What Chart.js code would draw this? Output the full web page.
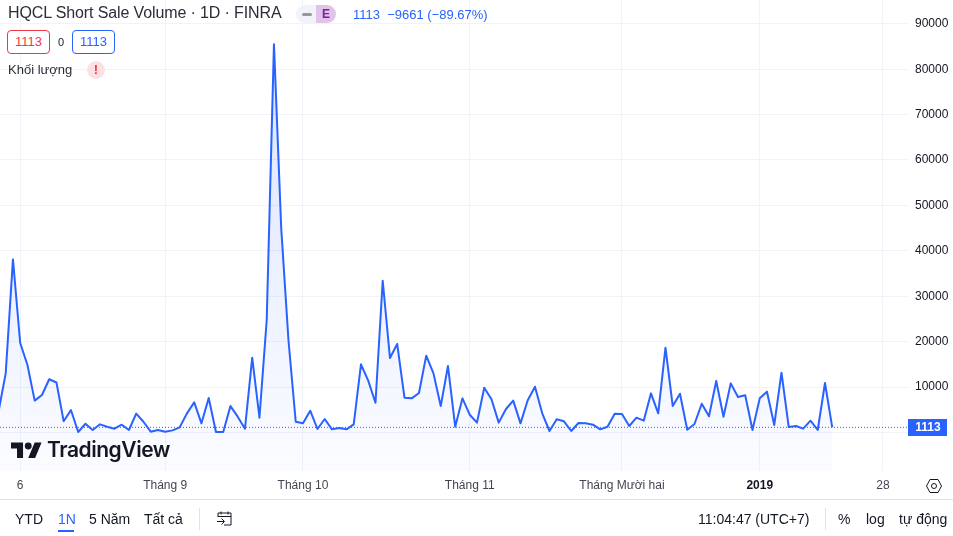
<!DOCTYPE html>
<html lang="vi">
<head>
<meta charset="utf-8">
<title>HQCL Short Sale Volume</title>
<script src="https://cdn.jsdelivr.net/npm/chart.js@4"></script>
<style>
html, body { margin: 0; padding: 0; background: #fff; overflow: hidden; }
body { width: 953px; height: 536px; position: relative; font-family: "Liberation Sans", Arial, sans-serif; color: #131722; }
canvas { position: absolute; left: 0; top: 0; }
.t { position: absolute; white-space: nowrap; line-height: 18px; }
.box { position: absolute; top: 30px; width: 41px; height: 22px; border: 1px solid; border-radius: 4px; font-size: 13px; line-height: 22px; text-align: center; background: #fff; }
svg { position: absolute; }
.sep { position: absolute; background: #e0e3eb; }
</style>
</head>
<body>
<canvas id="chart" width="953" height="536"></canvas>

<div class="t" style="left:8px;top:4px;font-size:16px;letter-spacing:-0.12px;color:#2a2e39">HQCL Short Sale Volume · 1D · FINRA</div>
<div style="position:absolute;left:296px;top:5px;width:20px;height:18px;background:#f0f3fa;border-radius:9px 0 0 9px"></div>
<div style="position:absolute;left:302px;top:13px;width:10px;height:3px;background:#9598a1;border-radius:2px"></div>
<div class="t" style="left:316px;top:5px;width:20px;height:18px;background:#e1c3ea;border-radius:0 9px 9px 0;text-align:center;font-size:12px;font-weight:bold;color:#7b1fa2">E</div>
<div class="t" style="left:353px;top:6px;font-size:13px;color:#2962ff">1113&nbsp; −9661 (−89.67%)</div>
<div class="box" style="left:7px;border-color:#f23645;color:#f23645">1113</div>
<div class="t" style="left:58px;top:33px;font-size:11px;color:#131722">0</div>
<div class="box" style="left:72px;border-color:#2962ff;color:#2962ff">1113</div>
<div class="t" style="left:8px;top:61px;font-size:13px;color:#2a2e39">Khối lượng</div>
<div class="t" style="left:87px;top:61px;width:18px;height:18px;border-radius:9px;background:#fde0e3;text-align:center;font-size:13px;font-weight:bold;color:#f23645">!</div>

<svg style="left:11px;top:439px" width="31" height="20" viewBox="0 0 36 23"><path fill="#131722" d="M14 22H7V11H0V4h14v18zM28 22h-8l7.5-18h8L28 22z"/><circle fill="#131722" cx="20" cy="8" r="4"/></svg>
<div class="t" style="left:47px;top:440px;font-size:21px;line-height:20px;font-family:Inter,sans-serif;font-weight:600;letter-spacing:-0.45px;color:#131722">TradingView</div>

<svg style="left:925px;top:477px" width="18" height="18" viewBox="0 0 18 18" fill="none" stroke="#131722" stroke-width="1"><path d="M5 2.5h8L16.5 9 13 15.5H5L1.5 9z"/><circle cx="9" cy="9" r="2.5"/></svg>

<div class="sep" style="left:0;top:499px;width:953px;height:1px"></div>
<div class="t" style="left:15px;top:510px;font-size:14px">YTD</div>
<div class="t" style="left:58px;top:510px;font-size:14px;color:#2962ff">1N</div>
<div style="position:absolute;left:58px;top:530px;width:16px;height:2px;background:#2962ff"></div>
<div class="t" style="left:89px;top:510px;font-size:14px">5 Năm</div>
<div class="t" style="left:144px;top:510px;font-size:14px">Tất cả</div>
<div class="sep" style="left:199px;top:508px;width:1px;height:22px"></div>
<svg style="left:216px;top:510px" width="18" height="18" viewBox="0 0 18 18" fill="none" stroke="#131722" stroke-width="1"><path d="M2 7V3h13v12H8M2 6.500h13M5 1.500v3M12 1.500v3M1 11.500h7M5.500 8.500l3 3-3 3"/></svg>
<div class="t" style="left:698px;top:510px;font-size:14px">11:04:47 (UTC+7)</div>
<div class="sep" style="left:825px;top:508px;width:1px;height:22px"></div>
<div class="t" style="left:838px;top:510px;font-size:14px">%</div>
<div class="t" style="left:866px;top:510px;font-size:14px">log</div>
<div class="t" style="left:899px;top:510px;font-size:14px">tự động</div>

<script>
// daily short sale volume
const volumes = [
  4500, 13000, 38100, 19700, 14850, 7000, 8240, 11700, 11000, 2440,
  4930, 90, 1900, 530, 1780, 1260, 820, 1700, 530, 4130,
  2350, 160, 530, 160, 450, 1120, 4200, 6620, 2000, 7570,
  90, 90, 5800, 3470, 820, 16450, 3240, 24750, 85500, 45000,
  20350, 2360, 2000, 4780, 750, 2950, 680, 970, 680, 1780,
  15000, 11400, 6540, 33400, 16380, 19470, 7650, 7500, 8680, 16900,
  13000, 5800, 14620, 1260, 7500, 3900, 2150, 9850, 7300, 2150,
  5150, 7000, 2000, 7070, 10070, 4200, 310, 2880, 2440, 310,
  2070, 2000, 1700, 680, 1260, 4120, 4050, 1410, 3240, 2580,
  8600, 4200, 18660, 5800, 8530, 600, 1850, 6320, 3550, 11320,
  3460, 10800, 7800, 8170, 530, 7500, 8970, 1630, 13150, 1190,
  1410, 820, 2580, 530, 10880, 1113
];
const xTickIndex = [3, 23, 42, 65, 86, 105, 122];
const xTickLabels = ["6", "Tháng 9", "Tháng 10", "Tháng 11", "Tháng Mười hai", "2019", "28"];
const yTicks = [0, 10000, 20000, 30000, 40000, 50000, 60000, 70000, 80000, 90000];
const lastValue = 1113;
const boldTick = 105;

const BLUE = "#2962ff";
const GRID = "#f0f3fa";
const FONT = '"Liberation Sans", Arial, sans-serif';
const X_MIN = 0.214;
const X_MAX = 125.45;
const Y_MIN = -8500;
const Y_MAX = 95240;

const lastBadge = {
  id: "lastBadge",
  afterDraw(chart) {
    const { ctx } = chart;
    const y = chart.scales.y.getPixelForValue(lastValue);
    ctx.save();
    ctx.fillStyle = BLUE;
    ctx.fillRect(908, Math.round(y) - 8, 39, 17);
    ctx.fillStyle = "#fff";
    ctx.font = "bold 12px " + FONT;
    ctx.textAlign = "center";
    ctx.textBaseline = "middle";
    ctx.fillText(String(lastValue), 928, Math.round(y) + 1);
    ctx.restore();
  }
};

const isBold = (c) => c.tick && c.tick.value === boldTick;

new Chart(document.getElementById("chart"), {
  type: "line",
  data: {
    datasets: [
      {
        label: "HQCL Short Sale Volume",
        data: volumes.map((v, i) => ({ x: i, y: v })),
        borderColor: BLUE,
        borderWidth: 2,
        borderJoinStyle: "round",
        pointRadius: 0,
        tension: 0,
        fill: "start",
        backgroundColor: (c) => {
          const area = c.chart.chartArea;
          if (!area) return "transparent";
          const g = c.chart.ctx.createLinearGradient(0, 44, 0, area.bottom);
          g.addColorStop(0, "rgba(41, 98, 255, 0.17)");
          g.addColorStop(1, "rgba(41, 98, 255, 0.02)");
          return g;
        }
      },
      {
        label: "last",
        data: [{ x: X_MIN, y: lastValue }, { x: X_MAX, y: lastValue }],
        borderColor: BLUE,
        borderWidth: 1,
        borderDash: [1, 2],
        pointRadius: 0,
        fill: false
      }
    ]
  },
  options: {
    responsive: false,
    animation: false,
    layout: { padding: 0 },
    plugins: { legend: { display: false }, tooltip: { enabled: false } },
    scales: {
      x: {
        type: "linear",
        min: X_MIN,
        max: X_MAX,
        afterBuildTicks: (s) => { s.ticks = xTickIndex.map((v) => ({ value: v })); },
        afterFit: (s) => { s.height = 65; s.paddingLeft = 0; s.paddingRight = 0; },
        grid: { color: GRID, drawTicks: false },
        border: { display: false },
        ticks: {
          autoSkip: false,
          maxRotation: 0,
          padding: 7,
          callback: (v) => xTickLabels[xTickIndex.indexOf(v)],
          color: (c) => (isBold(c) ? "#131722" : "#434651"),
          font: (c) => ({ family: FONT, size: 12, weight: isBold(c) ? "bold" : "normal" })
        }
      },
      y: {
        position: "right",
        min: Y_MIN,
        max: Y_MAX,
        afterBuildTicks: (s) => { s.ticks = yTicks.map((v) => ({ value: v })); },
        afterFit: (s) => { s.width = 45; s.paddingTop = 0; s.paddingBottom = 0; },
        grid: { color: GRID, drawTicks: false },
        border: { display: false },
        ticks: {
          padding: 7,
          color: "#131722",
          font: { family: FONT, size: 12 },
          callback: (v) => String(v)
        }
      }
    }
  },
  plugins: [lastBadge]
});
</script>
</body>
</html>
